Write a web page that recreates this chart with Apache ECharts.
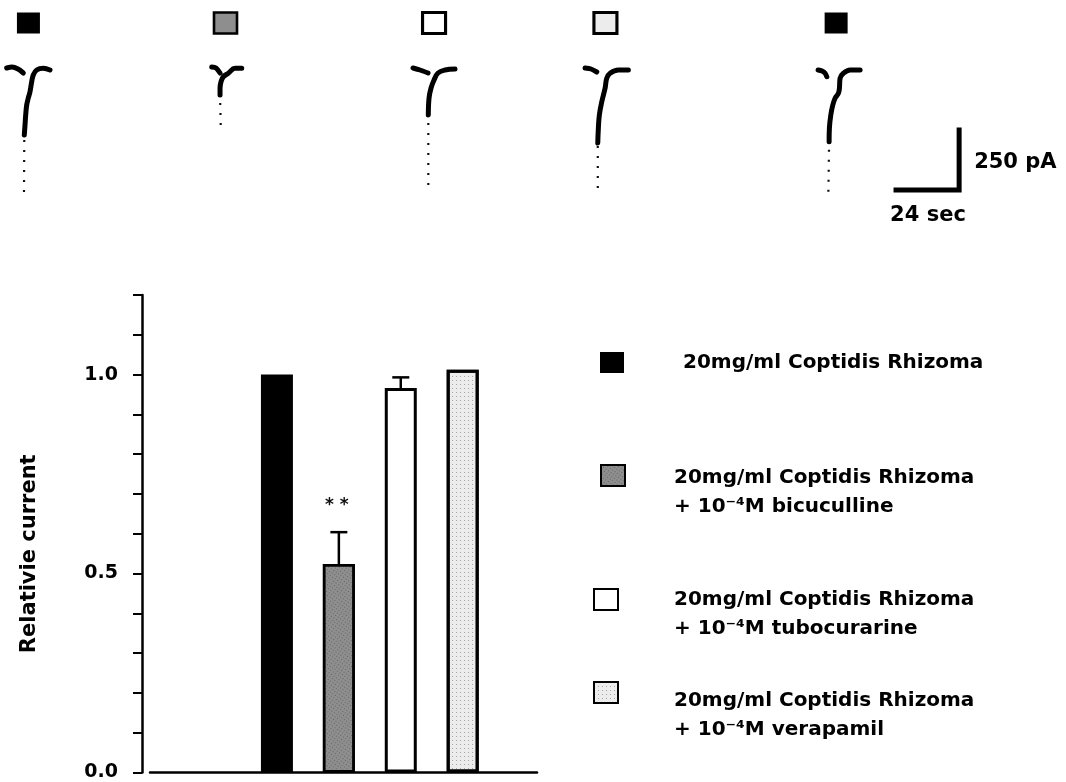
<!DOCTYPE html>
<html><head><meta charset="utf-8">
<script src="https://cdn.jsdelivr.net/npm/echarts/dist/echarts.min.js"></script>
<style>html,body{margin:0;padding:0;background:#fff}#c{width:1066px;height:782px}</style>
</head><body><div id="c"></div>
<script>
// ---------- bar chart data ----------
const conditionNames = [
  '20mg/ml Coptidis Rhizoma',
  '20mg/ml Coptidis Rhizoma\n+ 10\u207B\u2074M bicuculline',
  '20mg/ml Coptidis Rhizoma\n+ 10\u207B\u2074M tubocurarine',
  '20mg/ml Coptidis Rhizoma\n+ 10\u207B\u2074M verapamil'
];
const groupX = [1, 2, 3, 4];
const meanValues = [1.0, 0.524, 0.966, 1.012];
const upperErrors = [null, 0.604, 0.993, null];
const significance = ['', '**', '', ''];
const labeledTicks = [0, 0.5, 1.0];

// ---------- current traces (time in s, current in pA) ----------
const tr1Base = [[2.45,8],[4.39,12],[6.59,4],[8.53,-12]];
const tr1Rise = [[8.89,-260],[9.15,-220],[9.40,-180],[9.77,-140],[10.35,-112],[10.98,-87],[11.60,-47],[12.18,-20],[13.43,0],[15.84,7],[18.29,0]];
const tr1Fast = [[8.78,-488],[8.89,-260]];
const tr2Base = [[77.46,12],[79.03,8],[80.50,-12]];
const tr2Rise = [[80.50,-100],[80.50,-73],[80.86,-47],[81.71,-27],[83.53,-13],[85.99,7],[88.44,7]];
const tr2Fast = [[80.75,-220],[80.50,-100]];
const tr3Base = [[151.1,8],[153.7,0],[156.6,-12]];
const tr3Rise = [[156.7,-180],[156.97,-112],[157.7,-72],[158.8,-40],[160.26,-12],[162.82,0],[166.48,4]];
const tr3Fast = [[156.7,-460],[156.7,-180]];
const tr4Base = [[214.05,8],[216.25,4],[218.33,-8]];
const tr4Rise = [[218.7,-292],[218.92,-232],[219.28,-180],[220.16,-127],[221.37,-73],[221.98,-33],[223.2,-13],[226.24,0],[229.89,0]];
const tr4Fast = [[218.7,-472],[218.7,-292]];
const tr5Base = [[299.3,0],[300.77,-4],[301.87,-13],[302.49,-27]];
const tr5Rise = [[303.33,-287],[303.44,-232],[303.95,-180],[304.68,-140],[305.52,-113],[306.73,-93],[307.1,-73],[307.35,-33],[308.56,-13],[311.01,0],[314.67,0]];
const tr5Fast = [[303.07,-487],[303.33,-287]];
const applyTimes = [10.4, 82.5, 158.8, 221.5, 305.9];
const markerCondition = [0, 1, 2, 3, 0];
const markerLevel = 188;
const scaleBar = [[326.9,-480],[350.9,-480],[350.9,-230]];
const scaleLabelPoints = [[339.5,-480],[350.9,-372]];
const scaleLabelTexts = ['24 sec', '250 pA'];

// ---------- styles ----------
const FONT = 'DejaVu Sans';
const condStyles = [
  { color: '#000000', borderColor: '#000', borderWidth: 0 },
  { color: '#8e8e8e', borderColor: '#000', borderWidth: 2.5,
    decal: { symbol: 'rect', symbolSize: 1, dashArrayX: [1, 2], dashArrayY: [1, 2], rotation: 0.6, color: 'rgba(0,0,0,0.3)' } },
  { color: '#ffffff', borderColor: '#000', borderWidth: 3 },
  { color: '#ececec', borderColor: '#000', borderWidth: 3,
    decal: { symbol: 'rect', symbolSize: 1, dashArrayX: [1, 3], dashArrayY: [1, 3], rotation: 0, color: 'rgba(0,0,0,0.3)' } }
];

const traceSets = [
  [tr1Base, tr1Rise, tr1Fast], [tr2Base, tr2Rise, tr2Fast], [tr3Base, tr3Rise, tr3Fast],
  [tr4Base, tr4Rise, tr4Fast], [tr5Base, tr5Rise, tr5Fast]
];

const series = [];
// bars
conditionNames.forEach((name, i) => {
  series.push({
    name: name, type: 'bar', xAxisIndex: 1, yAxisIndex: 1,
    barWidth: 32, barGap: '-100%',
    itemStyle: condStyles[i],
    data: [[groupX[i], meanValues[i]]],
    z: 2
  });
});
// error bars + significance
series.push({
  type: 'custom', xAxisIndex: 1, yAxisIndex: 1, z: 3,
  data: groupX.map((x, i) => [x, meanValues[i], upperErrors[i] == null ? meanValues[i] : upperErrors[i], i]),
  renderItem: function (params, api) {
    const i = api.value(3);
    const children = [];
    if (upperErrors[i] != null) {
      const p0 = api.coord([api.value(0), api.value(1)]);
      const p1 = api.coord([api.value(0), api.value(2)]);
      children.push({ type: 'line', shape: { x1: p0[0], y1: p0[1], x2: p1[0], y2: p1[1] }, style: { stroke: '#000', lineWidth: 2.5 } });
      children.push({ type: 'line', shape: { x1: p1[0] - 8.5, y1: p1[1], x2: p1[0] + 8.5, y2: p1[1] }, style: { stroke: '#000', lineWidth: 2.5 } });
      if (significance[i]) {
        children.push({ type: 'text', style: { x: p1[0] - 2, y: p1[1] - 27, text: significance[i].split('').join(' '), fill: '#111', font: 'bold 17px ' + FONT, align: 'center', verticalAlign: 'middle' } });
      }
    }
    return { type: 'group', children: children };
  }
});
// traces
traceSets.forEach(set => {
  series.push({ type: 'line', xAxisIndex: 0, yAxisIndex: 0, data: set[0], symbol: 'none', smooth: 0.3,
    lineStyle: { color: '#000', width: 5, cap: 'round' }, silent: true });
  series.push({ type: 'line', xAxisIndex: 0, yAxisIndex: 0, data: set[1], symbol: 'none', smooth: 0.4,
    lineStyle: { color: '#000', width: 5, cap: 'round' }, silent: true });
  series.push({ type: 'line', xAxisIndex: 0, yAxisIndex: 0, data: set[2], symbol: 'none',
    lineStyle: { color: '#111', width: 2.2, type: [2, 8] }, silent: true });
});
// application markers
series.push({
  type: 'scatter', xAxisIndex: 0, yAxisIndex: 0, symbol: 'rect', symbolSize: [23, 21], silent: true,
  data: applyTimes.map((t, k) => ({ value: [t, markerLevel], itemStyle: Object.assign({}, condStyles[markerCondition[k]], { opacity: 1 }) }))
});
// scale bar
series.push({ type: 'line', xAxisIndex: 0, yAxisIndex: 0, data: scaleBar, symbol: 'none',
  lineStyle: { color: '#000', width: 5, join: 'miter' }, silent: true });
series.push({
  type: 'scatter', xAxisIndex: 0, yAxisIndex: 0, symbolSize: 0, silent: true,
  itemStyle: { opacity: 1 },
  data: scaleLabelPoints.map((p, k) => ({
    value: p,
    label: { show: true, formatter: scaleLabelTexts[k], position: k === 0 ? 'bottom' : 'right', distance: k === 0 ? 15 : 15,
      fontFamily: FONT, fontWeight: 'bold', fontSize: 21, color: '#000', opacity: 1 }
  }))
});

const legendTops = [352, 430, 556, 641];
const legendLefts = [600, 600, 593, 593];
const legendPadLeft = [54, 44, 51, 51];
const legendSpacer = [0, 33, 29, 45];

const option = {
  backgroundColor: '#fff',
  animation: false,
  textStyle: { fontFamily: FONT },
  grid: [
    { left: 0, right: 0, top: 0, height: 230 },
    { left: 150, right: 529, top: 295, bottom: 6 }
  ],
  xAxis: [
    { gridIndex: 0, type: 'value', min: 0, max: 390, show: false },
    { gridIndex: 1, type: 'value', min: -1.05, max: 5.2,
      axisLine: { show: true, onZero: false, lineStyle: { color: '#000', width: 2.5 } },
      axisTick: { show: false }, axisLabel: { show: false }, splitLine: { show: false } }
  ],
  yAxis: [
    { gridIndex: 0, type: 'value', min: -640, max: 280, show: false },
    { gridIndex: 1, type: 'value', min: 0, max: 1.2, interval: 0.1, offset: 8,
      name: 'Relativie current', nameLocation: 'middle', nameRotate: 90, nameGap: 102,
      nameTextStyle: { fontFamily: FONT, fontWeight: 'bold', fontSize: 21, color: '#000', padding: [0, 40, 0, 0] },
      axisLine: { show: true, onZero: false, lineStyle: { color: '#000', width: 2.5 } },
      axisTick: { show: true, inside: false, length: 9, lineStyle: { color: '#000', width: 2 } },
      axisLabel: { margin: 24, fontFamily: FONT, fontWeight: 'bold', fontSize: 19, color: '#000',
        formatter: v => labeledTicks.some(t => Math.abs(t - v) < 1e-6) ? v.toFixed(1) : '' },
      splitLine: { show: false } }
  ],
  legend: conditionNames.map((n, i) => ({
    data: [n], left: legendLefts[i], top: legendTops[i], orient: 'vertical', padding: 0,
    itemWidth: 24, itemHeight: 21, icon: 'rect', selectedMode: false,
    formatter: name => {
      const lines = name.split('\n').map(s => '{t|' + s + '}');
      return (legendSpacer[i] ? '{s|}\n' : '') + lines.join('\n');
    },
    textStyle: {
      padding: [0, 0, 0, legendPadLeft[i]],
      rich: {
        t: { fontFamily: FONT, fontWeight: 'bold', fontSize: 20, color: '#000', lineHeight: 29 },
        s: { fontSize: 1, lineHeight: legendSpacer[i] || 1, height: legendSpacer[i] || 1 }
      }
    }
  })),
  series: series
};
const chart = echarts.init(document.getElementById('c'), null, { renderer: 'canvas' });
chart.setOption(option);
</script></body></html>
